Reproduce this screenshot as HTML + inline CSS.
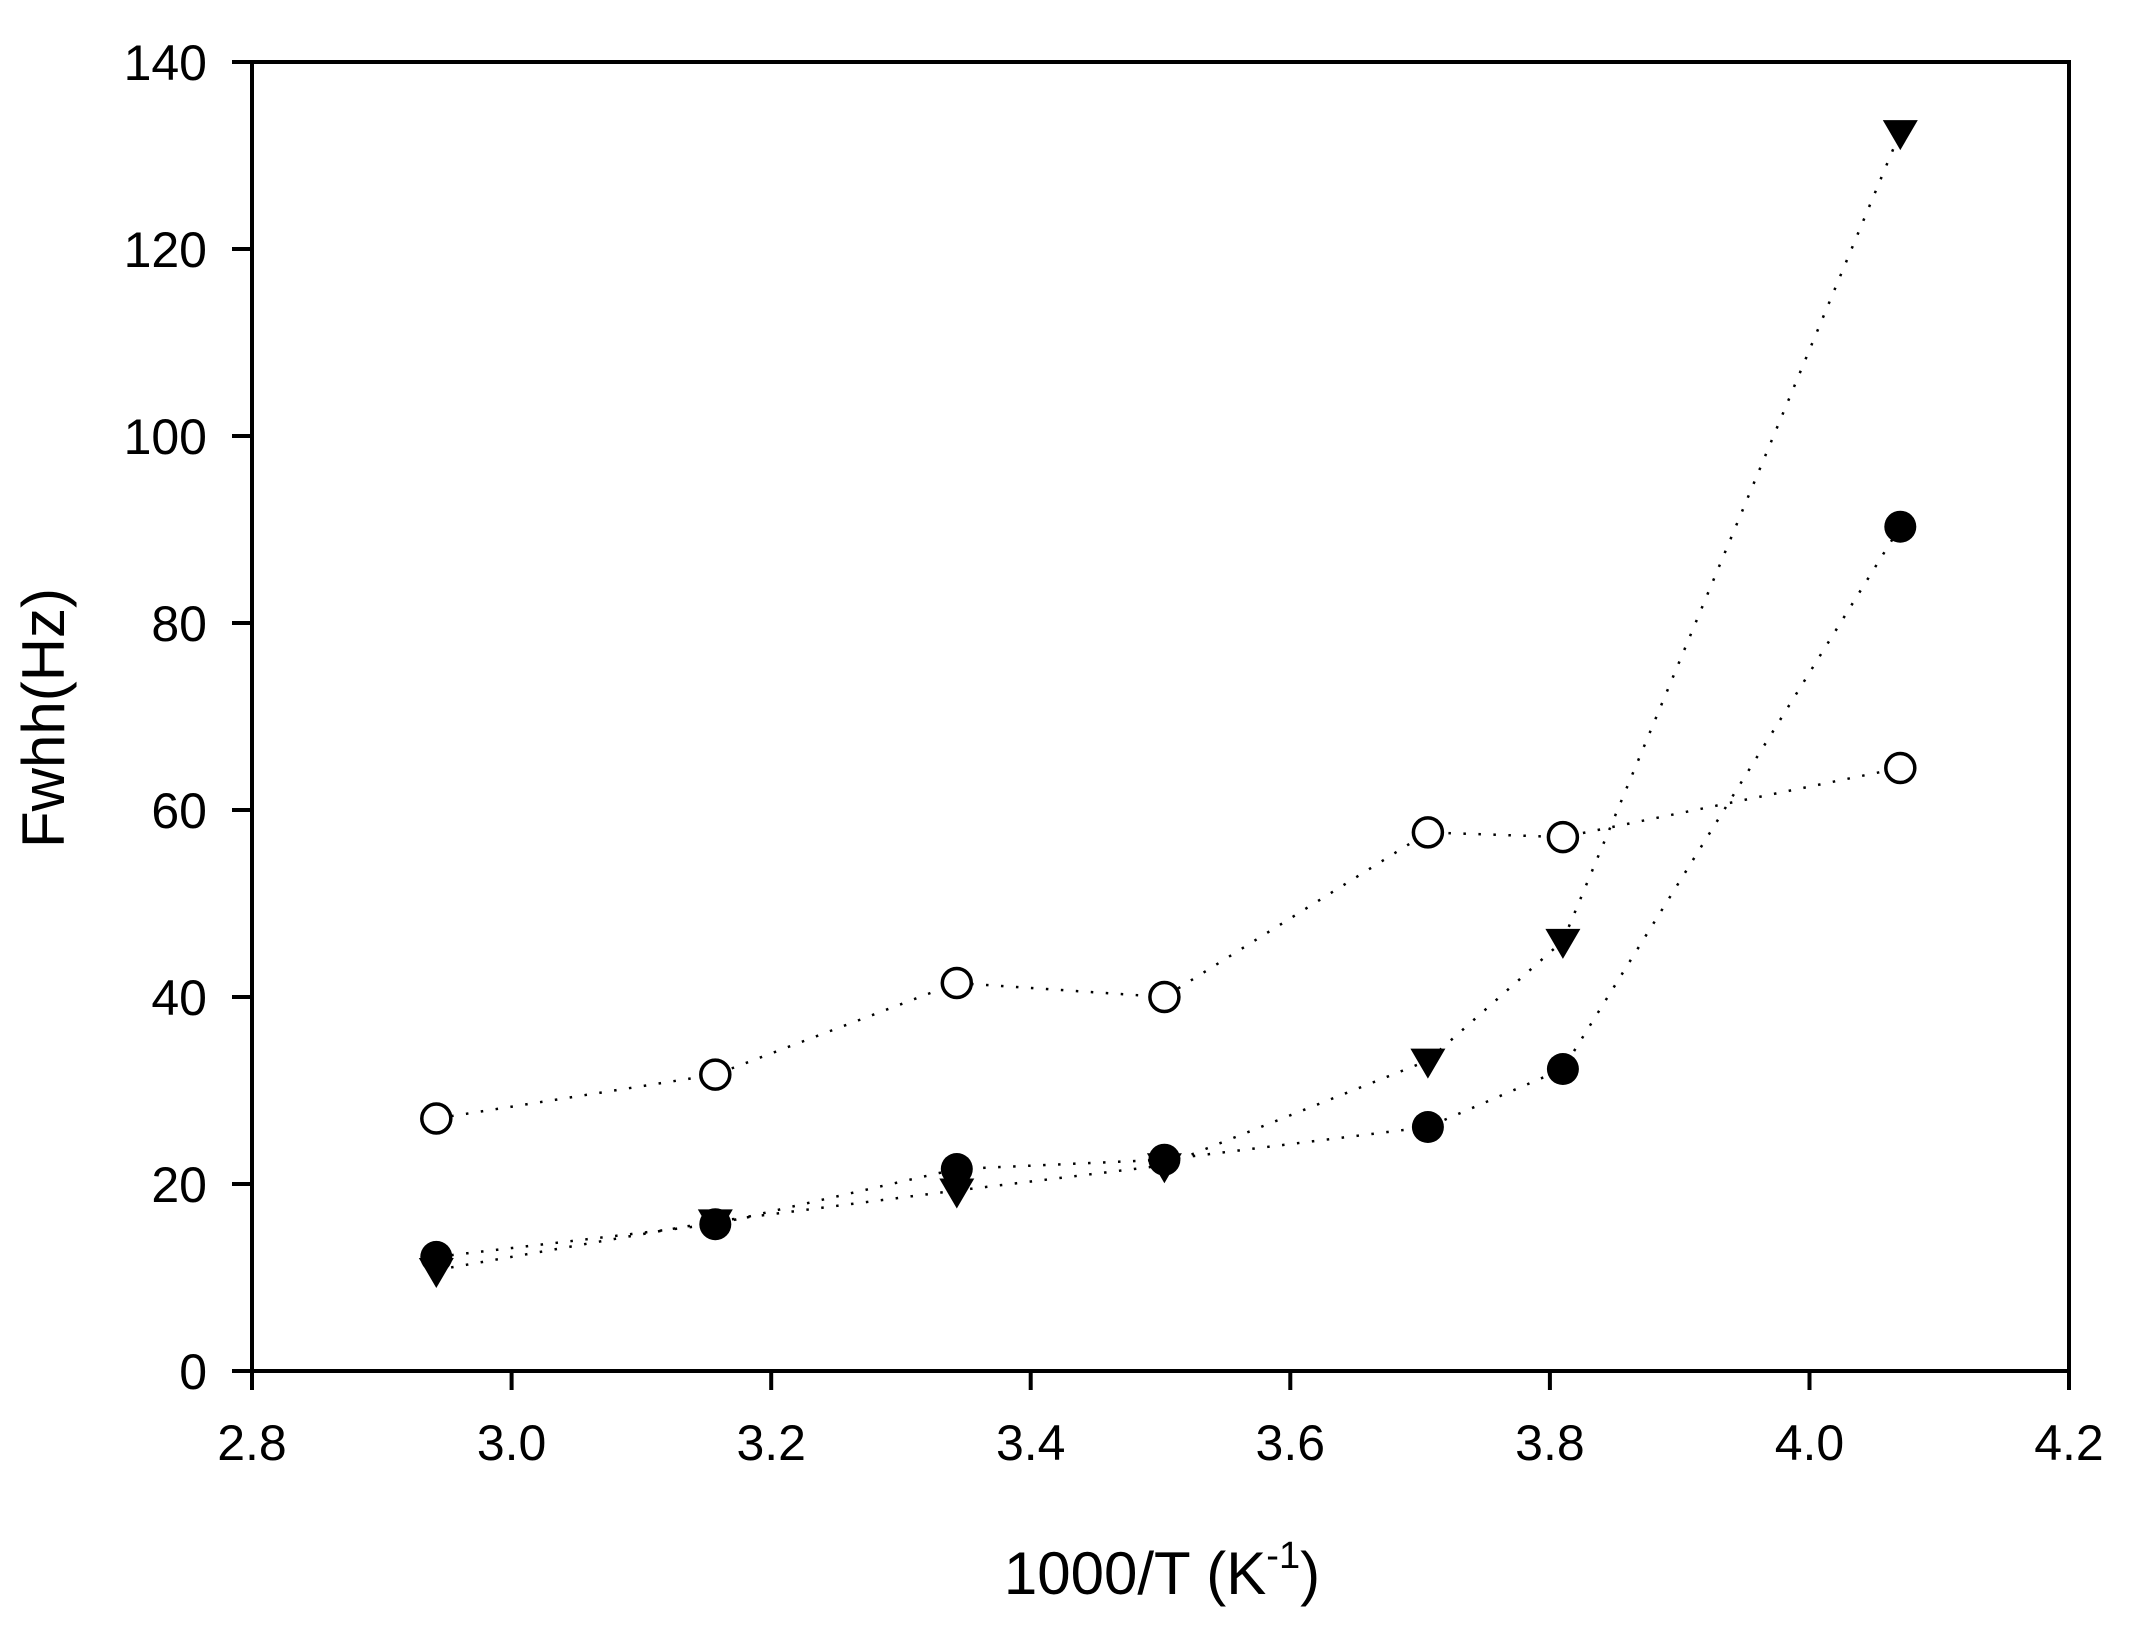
<!DOCTYPE html>
<html><head><meta charset="utf-8"><style>html,body{margin:0;padding:0;background:#fff}</style></head>
<body>
<svg width="2140" height="1620" xmlns="http://www.w3.org/2000/svg" font-family="Liberation Sans, Arial, sans-serif">
<rect width="2140" height="1620" fill="#fff"/>
<g stroke="#000" stroke-width="4" fill="none">
<rect x="252" y="62" width="1817" height="1309"/>
<path d="M232 1371H252M232 1184H252M232 997H252M232 810H252M232 623H252M232 436H252M232 249H252M232 62H252"/>
<path d="M252 1371V1390M511.6 1371V1390M771.2 1371V1390M1030.7 1371V1390M1290.3 1371V1390M1549.9 1371V1390M1809.5 1371V1390M2069 1371V1390"/>
</g>
<g font-size="50" text-anchor="end" fill="#000">
<text x="207" y="1389">0</text><text x="207" y="1202">20</text><text x="207" y="1015">40</text><text x="207" y="828">60</text><text x="207" y="641">80</text><text x="207" y="454">100</text><text x="207" y="267">120</text><text x="207" y="80">140</text>
</g>
<g font-size="50" text-anchor="middle" fill="#000">
<text x="252" y="1460">2.8</text><text x="511.6" y="1460">3.0</text><text x="771.2" y="1460">3.2</text><text x="1030.7" y="1460">3.4</text><text x="1290.3" y="1460">3.6</text><text x="1549.9" y="1460">3.8</text><text x="1809.5" y="1460">4.0</text><text x="2069" y="1460">4.2</text>
</g>
<text x="1162" y="1594" font-size="60" text-anchor="middle">1000/T (K<tspan font-size="38" dy="-26">-1</tspan><tspan dy="26">)</tspan></text>
<text transform="translate(64,718) rotate(-90)" font-size="60" text-anchor="middle">Fwhh(Hz)</text>
<g fill="none" stroke="#000" stroke-width="2.5" stroke-dasharray="2.5 12.5">
<polyline points="436.3,1118.5 715.3,1074.6 956.8,983 1164.4,997 1427.9,832.4 1562.9,837.1 1900.3,768"/>
<polyline points="436.3,1256.9 715.3,1224.2 956.8,1169 1164.4,1159.7 1427.9,1127 1562.9,1069 1900.3,526.7"/>
<polyline points="436.3,1270 715.3,1221.4 956.8,1190.5 1164.4,1165.3 1427.9,1060.6 1562.9,940.9 1900.3,132.1"/>
</g>
<g fill="#000">
<path d="M418.8,1258h35l-17.5,30z"/>
<path d="M697.8,1209.4h35l-17.5,30z"/>
<path d="M939.3,1178.5h35l-17.5,30z"/>
<path d="M1146.9,1153.3h35l-17.5,30z"/>
<path d="M1410.4,1048.6h35l-17.5,30z"/>
<path d="M1545.4,928.9h35l-17.5,30z"/>
<path d="M1882.8,120.1h35l-17.5,30z"/>
</g>
<g fill="#000">
<circle cx="436.3" cy="1256.9" r="16"/><circle cx="715.3" cy="1224.2" r="16"/><circle cx="956.8" cy="1169" r="16"/><circle cx="1164.4" cy="1159.7" r="16"/><circle cx="1427.9" cy="1127" r="16"/><circle cx="1562.9" cy="1069" r="16"/><circle cx="1900.3" cy="526.7" r="16"/>
</g>
<g fill="#fff" stroke="#000" stroke-width="3.5">
<circle cx="436.3" cy="1118.5" r="14.5"/><circle cx="715.3" cy="1074.6" r="14.5"/><circle cx="956.8" cy="983" r="14.5"/><circle cx="1164.4" cy="997" r="14.5"/><circle cx="1427.9" cy="832.4" r="14.5"/><circle cx="1562.9" cy="837.1" r="14.5"/><circle cx="1900.3" cy="768" r="14.5"/>
</g>
</svg>
</body></html>
